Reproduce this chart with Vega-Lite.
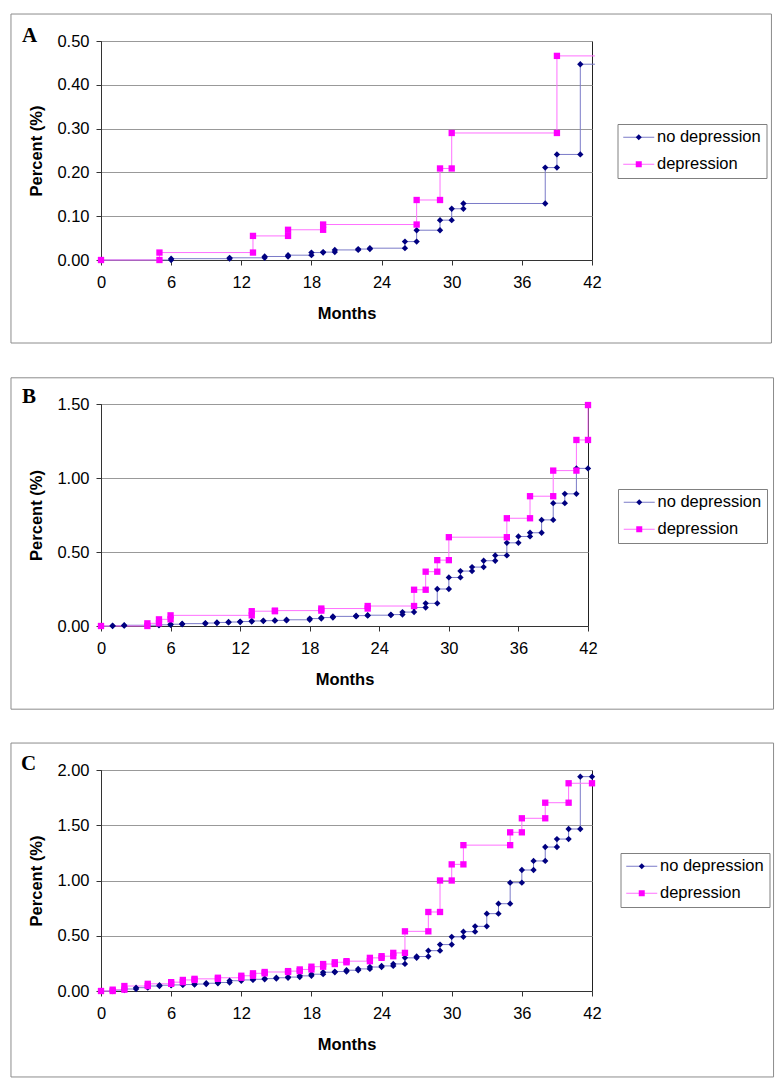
{
"$schema": "https://vega.github.io/schema/vega-lite/v6.json",
"background": "white",
"padding": {"left": 9, "top": 13, "right": 0, "bottom": 0},
"spacing": 31,
"config": {
  "view": {"stroke": "#222", "strokeWidth": 1},
  "font": "Liberation Sans",
  "axis": {"labelFont": "Liberation Sans", "labelFontSize": 16.5, "labelColor": "#000", "titleFont": "Liberation Sans", "titleFontSize": 16.5, "titleFontWeight": "bold", "titleColor": "#000", "domainColor": "#333", "tickColor": "#333", "tickSize": 5, "labelFlush": false, "labelOverlap": false},
  "axisX": {"grid": false, "labelPadding": 9, "titlePadding": 15},
  "axisY": {"grid": true, "gridColor": "#999", "labelPadding": 7, "titlePadding": 12},
  "legend": {"title": null, "orient": "none", "symbolSize": 36, "symbolOffset": 8, "labelOffset": 10, "padding": 5, "rowPadding": 10, "labelFont": "Liberation Sans", "labelFontSize": 16.5, "labelColor": "#000", "labelLimit": 300}
},
"resolve": {"scale": {"color": "independent", "fill": "independent", "shape": "independent"}, "legend": {"color": "independent", "fill": "independent", "shape": "independent"}},
"datasets": {
"curves": [
{"p":"A","g":"no depression","m":0,"v":0},{"p":"A","g":"no depression","m":6,"v":0},{"p":"A","g":"no depression","m":6,"v":0.003},{"p":"A","g":"no depression","m":11,"v":0.003},{"p":"A","g":"no depression","m":11,"v":0.005},{"p":"A","g":"no depression","m":14,"v":0.005},{"p":"A","g":"no depression","m":14,"v":0.008},{"p":"A","g":"no depression","m":16,"v":0.008},{"p":"A","g":"no depression","m":16,"v":0.011},{"p":"A","g":"no depression","m":18,"v":0.011},{"p":"A","g":"no depression","m":18,"v":0.017},{"p":"A","g":"no depression","m":19,"v":0.017},{"p":"A","g":"no depression","m":19,"v":0.018},{"p":"A","g":"no depression","m":20,"v":0.018},{"p":"A","g":"no depression","m":20,"v":0.023},{"p":"A","g":"no depression","m":22,"v":0.023},{"p":"A","g":"no depression","m":22,"v":0.025},{"p":"A","g":"no depression","m":23,"v":0.025},{"p":"A","g":"no depression","m":23,"v":0.027},{"p":"A","g":"no depression","m":26,"v":0.027},{"p":"A","g":"no depression","m":26,"v":0.042},{"p":"A","g":"no depression","m":27,"v":0.042},{"p":"A","g":"no depression","m":27,"v":0.068},{"p":"A","g":"no depression","m":29,"v":0.068},{"p":"A","g":"no depression","m":29,"v":0.091},{"p":"A","g":"no depression","m":30,"v":0.091},{"p":"A","g":"no depression","m":30,"v":0.117},{"p":"A","g":"no depression","m":31,"v":0.117},{"p":"A","g":"no depression","m":31,"v":0.129},{"p":"A","g":"no depression","m":38,"v":0.129},{"p":"A","g":"no depression","m":38,"v":0.211},{"p":"A","g":"no depression","m":39,"v":0.211},{"p":"A","g":"no depression","m":39,"v":0.241},{"p":"A","g":"no depression","m":41,"v":0.241},{"p":"A","g":"no depression","m":41,"v":0.447},{"p":"A","g":"no depression","m":42.25,"v":0.447,"k":"tail"},
{"p":"A","g":"depression","m":0,"v":0},{"p":"A","g":"depression","m":5,"v":0},{"p":"A","g":"depression","m":5,"v":0.017},{"p":"A","g":"depression","m":13,"v":0.017},{"p":"A","g":"depression","m":13,"v":0.055},{"p":"A","g":"depression","m":16,"v":0.055},{"p":"A","g":"depression","m":16,"v":0.069},{"p":"A","g":"depression","m":19,"v":0.069},{"p":"A","g":"depression","m":19,"v":0.081},{"p":"A","g":"depression","m":27,"v":0.081},{"p":"A","g":"depression","m":27,"v":0.137},{"p":"A","g":"depression","m":29,"v":0.137},{"p":"A","g":"depression","m":29,"v":0.209},{"p":"A","g":"depression","m":30,"v":0.209},{"p":"A","g":"depression","m":30,"v":0.29},{"p":"A","g":"depression","m":39,"v":0.29},{"p":"A","g":"depression","m":39,"v":0.466},{"p":"A","g":"depression","m":42.25,"v":0.466,"k":"tail"},
{"p":"B","g":"no depression","m":0,"v":0},{"p":"B","g":"no depression","m":1,"v":0},{"p":"B","g":"no depression","m":1,"v":0.002},{"p":"B","g":"no depression","m":2,"v":0.002},{"p":"B","g":"no depression","m":2,"v":0.005},{"p":"B","g":"no depression","m":5,"v":0.005},{"p":"B","g":"no depression","m":5,"v":0.008},{"p":"B","g":"no depression","m":6,"v":0.008},{"p":"B","g":"no depression","m":6,"v":0.012},{"p":"B","g":"no depression","m":7,"v":0.012},{"p":"B","g":"no depression","m":7,"v":0.016},{"p":"B","g":"no depression","m":9,"v":0.016},{"p":"B","g":"no depression","m":9,"v":0.02},{"p":"B","g":"no depression","m":10,"v":0.02},{"p":"B","g":"no depression","m":10,"v":0.024},{"p":"B","g":"no depression","m":11,"v":0.024},{"p":"B","g":"no depression","m":11,"v":0.027},{"p":"B","g":"no depression","m":12,"v":0.027},{"p":"B","g":"no depression","m":12,"v":0.03},{"p":"B","g":"no depression","m":13,"v":0.03},{"p":"B","g":"no depression","m":13,"v":0.034},{"p":"B","g":"no depression","m":14,"v":0.034},{"p":"B","g":"no depression","m":14,"v":0.036},{"p":"B","g":"no depression","m":15,"v":0.036},{"p":"B","g":"no depression","m":15,"v":0.038},{"p":"B","g":"no depression","m":16,"v":0.038},{"p":"B","g":"no depression","m":16,"v":0.042},{"p":"B","g":"no depression","m":18,"v":0.042},{"p":"B","g":"no depression","m":18,"v":0.05},{"p":"B","g":"no depression","m":19,"v":0.05},{"p":"B","g":"no depression","m":19,"v":0.057},{"p":"B","g":"no depression","m":20,"v":0.057},{"p":"B","g":"no depression","m":20,"v":0.065},{"p":"B","g":"no depression","m":22,"v":0.065},{"p":"B","g":"no depression","m":22,"v":0.07},{"p":"B","g":"no depression","m":23,"v":0.07},{"p":"B","g":"no depression","m":23,"v":0.073},{"p":"B","g":"no depression","m":25,"v":0.073},{"p":"B","g":"no depression","m":25,"v":0.077},{"p":"B","g":"no depression","m":26,"v":0.077},{"p":"B","g":"no depression","m":26,"v":0.094},{"p":"B","g":"no depression","m":27,"v":0.094},{"p":"B","g":"no depression","m":27,"v":0.125},{"p":"B","g":"no depression","m":28,"v":0.125},{"p":"B","g":"no depression","m":28,"v":0.153},{"p":"B","g":"no depression","m":29,"v":0.153},{"p":"B","g":"no depression","m":29,"v":0.25},{"p":"B","g":"no depression","m":30,"v":0.25},{"p":"B","g":"no depression","m":30,"v":0.328},{"p":"B","g":"no depression","m":31,"v":0.328},{"p":"B","g":"no depression","m":31,"v":0.371},{"p":"B","g":"no depression","m":32,"v":0.371},{"p":"B","g":"no depression","m":32,"v":0.398},{"p":"B","g":"no depression","m":33,"v":0.398},{"p":"B","g":"no depression","m":33,"v":0.441},{"p":"B","g":"no depression","m":34,"v":0.441},{"p":"B","g":"no depression","m":34,"v":0.477},{"p":"B","g":"no depression","m":35,"v":0.477},{"p":"B","g":"no depression","m":35,"v":0.562},{"p":"B","g":"no depression","m":36,"v":0.562},{"p":"B","g":"no depression","m":36,"v":0.605},{"p":"B","g":"no depression","m":37,"v":0.605},{"p":"B","g":"no depression","m":37,"v":0.63},{"p":"B","g":"no depression","m":38,"v":0.63},{"p":"B","g":"no depression","m":38,"v":0.717},{"p":"B","g":"no depression","m":39,"v":0.717},{"p":"B","g":"no depression","m":39,"v":0.83},{"p":"B","g":"no depression","m":40,"v":0.83},{"p":"B","g":"no depression","m":40,"v":0.893},{"p":"B","g":"no depression","m":41,"v":0.893},{"p":"B","g":"no depression","m":41,"v":1.065},{"p":"B","g":"no depression","m":42,"v":1.065},
{"p":"B","g":"depression","m":0,"v":0},{"p":"B","g":"depression","m":4,"v":0},{"p":"B","g":"depression","m":4,"v":0.018},{"p":"B","g":"depression","m":5,"v":0.018},{"p":"B","g":"depression","m":5,"v":0.045},{"p":"B","g":"depression","m":6,"v":0.045},{"p":"B","g":"depression","m":6,"v":0.072},{"p":"B","g":"depression","m":13,"v":0.072},{"p":"B","g":"depression","m":13,"v":0.1},{"p":"B","g":"depression","m":15,"v":0.1},{"p":"B","g":"depression","m":15,"v":0.104},{"p":"B","g":"depression","m":19,"v":0.104},{"p":"B","g":"depression","m":19,"v":0.118},{"p":"B","g":"depression","m":23,"v":0.118},{"p":"B","g":"depression","m":23,"v":0.135},{"p":"B","g":"depression","m":27,"v":0.135},{"p":"B","g":"depression","m":27,"v":0.245},{"p":"B","g":"depression","m":28,"v":0.245},{"p":"B","g":"depression","m":28,"v":0.367},{"p":"B","g":"depression","m":29,"v":0.367},{"p":"B","g":"depression","m":29,"v":0.445},{"p":"B","g":"depression","m":30,"v":0.445},{"p":"B","g":"depression","m":30,"v":0.6},{"p":"B","g":"depression","m":35,"v":0.6},{"p":"B","g":"depression","m":35,"v":0.728},{"p":"B","g":"depression","m":37,"v":0.728},{"p":"B","g":"depression","m":37,"v":0.877},{"p":"B","g":"depression","m":39,"v":0.877},{"p":"B","g":"depression","m":39,"v":1.05},{"p":"B","g":"depression","m":41,"v":1.05},{"p":"B","g":"depression","m":41,"v":1.257},{"p":"B","g":"depression","m":42,"v":1.257},{"p":"B","g":"depression","m":42,"v":1.493},
{"p":"C","g":"no depression","m":0,"v":0},{"p":"C","g":"no depression","m":1,"v":0},{"p":"C","g":"no depression","m":1,"v":0.008},{"p":"C","g":"no depression","m":2,"v":0.008},{"p":"C","g":"no depression","m":2,"v":0.018},{"p":"C","g":"no depression","m":3,"v":0.018},{"p":"C","g":"no depression","m":3,"v":0.03},{"p":"C","g":"no depression","m":4,"v":0.03},{"p":"C","g":"no depression","m":4,"v":0.045},{"p":"C","g":"no depression","m":5,"v":0.045},{"p":"C","g":"no depression","m":5,"v":0.052},{"p":"C","g":"no depression","m":6,"v":0.052},{"p":"C","g":"no depression","m":6,"v":0.055},{"p":"C","g":"no depression","m":7,"v":0.055},{"p":"C","g":"no depression","m":7,"v":0.058},{"p":"C","g":"no depression","m":8,"v":0.058},{"p":"C","g":"no depression","m":8,"v":0.063},{"p":"C","g":"no depression","m":9,"v":0.063},{"p":"C","g":"no depression","m":9,"v":0.07},{"p":"C","g":"no depression","m":10,"v":0.07},{"p":"C","g":"no depression","m":10,"v":0.077},{"p":"C","g":"no depression","m":11,"v":0.077},{"p":"C","g":"no depression","m":11,"v":0.093},{"p":"C","g":"no depression","m":12,"v":0.093},{"p":"C","g":"no depression","m":12,"v":0.1},{"p":"C","g":"no depression","m":13,"v":0.1},{"p":"C","g":"no depression","m":13,"v":0.106},{"p":"C","g":"no depression","m":14,"v":0.106},{"p":"C","g":"no depression","m":14,"v":0.112},{"p":"C","g":"no depression","m":15,"v":0.112},{"p":"C","g":"no depression","m":15,"v":0.12},{"p":"C","g":"no depression","m":16,"v":0.12},{"p":"C","g":"no depression","m":16,"v":0.126},{"p":"C","g":"no depression","m":17,"v":0.126},{"p":"C","g":"no depression","m":17,"v":0.137},{"p":"C","g":"no depression","m":18,"v":0.137},{"p":"C","g":"no depression","m":18,"v":0.152},{"p":"C","g":"no depression","m":19,"v":0.152},{"p":"C","g":"no depression","m":19,"v":0.17},{"p":"C","g":"no depression","m":20,"v":0.17},{"p":"C","g":"no depression","m":20,"v":0.176},{"p":"C","g":"no depression","m":21,"v":0.176},{"p":"C","g":"no depression","m":21,"v":0.188},{"p":"C","g":"no depression","m":22,"v":0.188},{"p":"C","g":"no depression","m":22,"v":0.2},{"p":"C","g":"no depression","m":23,"v":0.2},{"p":"C","g":"no depression","m":23,"v":0.217},{"p":"C","g":"no depression","m":24,"v":0.217},{"p":"C","g":"no depression","m":24,"v":0.227},{"p":"C","g":"no depression","m":25,"v":0.227},{"p":"C","g":"no depression","m":25,"v":0.245},{"p":"C","g":"no depression","m":26,"v":0.245},{"p":"C","g":"no depression","m":26,"v":0.3},{"p":"C","g":"no depression","m":27,"v":0.3},{"p":"C","g":"no depression","m":27,"v":0.312},{"p":"C","g":"no depression","m":28,"v":0.312},{"p":"C","g":"no depression","m":28,"v":0.365},{"p":"C","g":"no depression","m":29,"v":0.365},{"p":"C","g":"no depression","m":29,"v":0.42},{"p":"C","g":"no depression","m":30,"v":0.42},{"p":"C","g":"no depression","m":30,"v":0.49},{"p":"C","g":"no depression","m":31,"v":0.49},{"p":"C","g":"no depression","m":31,"v":0.537},{"p":"C","g":"no depression","m":32,"v":0.537},{"p":"C","g":"no depression","m":32,"v":0.585},{"p":"C","g":"no depression","m":33,"v":0.585},{"p":"C","g":"no depression","m":33,"v":0.7},{"p":"C","g":"no depression","m":34,"v":0.7},{"p":"C","g":"no depression","m":34,"v":0.79},{"p":"C","g":"no depression","m":35,"v":0.79},{"p":"C","g":"no depression","m":35,"v":0.98},{"p":"C","g":"no depression","m":36,"v":0.98},{"p":"C","g":"no depression","m":36,"v":1.095},{"p":"C","g":"no depression","m":37,"v":1.095},{"p":"C","g":"no depression","m":37,"v":1.177},{"p":"C","g":"no depression","m":38,"v":1.177},{"p":"C","g":"no depression","m":38,"v":1.303},{"p":"C","g":"no depression","m":39,"v":1.303},{"p":"C","g":"no depression","m":39,"v":1.375},{"p":"C","g":"no depression","m":40,"v":1.375},{"p":"C","g":"no depression","m":40,"v":1.466},{"p":"C","g":"no depression","m":41,"v":1.466},{"p":"C","g":"no depression","m":41,"v":1.94},{"p":"C","g":"no depression","m":42,"v":1.94},
{"p":"C","g":"depression","m":0,"v":0},{"p":"C","g":"depression","m":1,"v":0},{"p":"C","g":"depression","m":1,"v":0.012},{"p":"C","g":"depression","m":2,"v":0.012},{"p":"C","g":"depression","m":2,"v":0.045},{"p":"C","g":"depression","m":4,"v":0.045},{"p":"C","g":"depression","m":4,"v":0.065},{"p":"C","g":"depression","m":6,"v":0.065},{"p":"C","g":"depression","m":6,"v":0.08},{"p":"C","g":"depression","m":7,"v":0.08},{"p":"C","g":"depression","m":7,"v":0.1},{"p":"C","g":"depression","m":8,"v":0.1},{"p":"C","g":"depression","m":8,"v":0.11},{"p":"C","g":"depression","m":10,"v":0.11},{"p":"C","g":"depression","m":10,"v":0.12},{"p":"C","g":"depression","m":12,"v":0.12},{"p":"C","g":"depression","m":12,"v":0.138},{"p":"C","g":"depression","m":13,"v":0.138},{"p":"C","g":"depression","m":13,"v":0.16},{"p":"C","g":"depression","m":14,"v":0.16},{"p":"C","g":"depression","m":14,"v":0.172},{"p":"C","g":"depression","m":16,"v":0.172},{"p":"C","g":"depression","m":16,"v":0.18},{"p":"C","g":"depression","m":17,"v":0.18},{"p":"C","g":"depression","m":17,"v":0.195},{"p":"C","g":"depression","m":18,"v":0.195},{"p":"C","g":"depression","m":18,"v":0.22},{"p":"C","g":"depression","m":19,"v":0.22},{"p":"C","g":"depression","m":19,"v":0.244},{"p":"C","g":"depression","m":20,"v":0.244},{"p":"C","g":"depression","m":20,"v":0.26},{"p":"C","g":"depression","m":21,"v":0.26},{"p":"C","g":"depression","m":21,"v":0.27},{"p":"C","g":"depression","m":23,"v":0.27},{"p":"C","g":"depression","m":23,"v":0.3},{"p":"C","g":"depression","m":24,"v":0.3},{"p":"C","g":"depression","m":24,"v":0.315},{"p":"C","g":"depression","m":25,"v":0.315},{"p":"C","g":"depression","m":25,"v":0.345},{"p":"C","g":"depression","m":26,"v":0.345},{"p":"C","g":"depression","m":26,"v":0.54},{"p":"C","g":"depression","m":28,"v":0.54},{"p":"C","g":"depression","m":28,"v":0.715},{"p":"C","g":"depression","m":29,"v":0.715},{"p":"C","g":"depression","m":29,"v":1.0},{"p":"C","g":"depression","m":30,"v":1.0},{"p":"C","g":"depression","m":30,"v":1.146},{"p":"C","g":"depression","m":31,"v":1.146},{"p":"C","g":"depression","m":31,"v":1.32},{"p":"C","g":"depression","m":35,"v":1.32},{"p":"C","g":"depression","m":35,"v":1.436},{"p":"C","g":"depression","m":36,"v":1.436},{"p":"C","g":"depression","m":36,"v":1.563},{"p":"C","g":"depression","m":38,"v":1.563},{"p":"C","g":"depression","m":38,"v":1.704},{"p":"C","g":"depression","m":40,"v":1.704},{"p":"C","g":"depression","m":40,"v":1.88},{"p":"C","g":"depression","m":42,"v":1.88}
]
},
"vconcat": [
{
  "width": 491, "height": 219,
  "layer": [
    {"data": {"values": [{"panel": "A"}]}, "mark": {"type": "rect", "fill": "transparent", "stroke": "#8c8c8c", "strokeWidth": 1, "clip": false},
     "encoding": {"x": {"datum": -7.7, "type": "quantitative", "scale": {"domain": [0, 42], "nice": false, "zero": false}, "axis": {"values": [0, 6, 12, 18, 24, 30, 36, 42], "title": "Months"}}, "x2": {"datum": 57.35}, "y": {"datum": 0.5616, "type": "quantitative", "scale": {"domain": [0, 0.5], "nice": false}, "axis": {"values": [0, 0.1, 0.2, 0.3, 0.4, 0.5], "format": ".2f", "title": "Percent (%)"}}, "y2": {"datum": -0.1895}}},
    {"data": {"values": [{"panel": "A"}]}, "mark": {"type": "text", "font": "Liberation Serif", "fontSize": 21, "fontWeight": "bold", "align": "center", "baseline": "alphabetic", "clip": false, "color": "#000"},
     "encoding": {"text": {"field": "panel"}, "x": {"datum": -6.1, "type": "quantitative"}, "y": {"datum": 0.498, "type": "quantitative"}}},
    {"data": {"name": "curves"}, "transform": [{"filter": "datum.p === 'A'"}], "mark": {"type": "line", "strokeWidth": 1, "clip": false},
     "encoding": {
       "x": {"field": "m", "type": "quantitative"},
       "y": {"field": "v", "type": "quantitative"},
       "color": {"field": "g", "type": "nominal", "sort": ["no depression", "depression"], "scale": {"range": ["#7b7bc8", "#ff70ff"]},
         "legend": {"legendX": 516.5, "legendY": 83, "symbolType": "M-5.17,0H5.17", "symbolStrokeWidth": 1, "strokeColor": "#808080"}},
       "order": [{"field": "m"}, {"field": "v"}]}},
    {"data": {"name": "curves"}, "transform": [{"filter": "datum.p === 'A' && datum.k !== 'tail'"}], "mark": {"type": "point", "filled": true, "opacity": 1, "size": 40, "strokeWidth": 0, "clip": false},
     "encoding": {
       "x": {"field": "m", "type": "quantitative"},
       "y": {"field": "v", "type": "quantitative"},
       "fill": {"field": "g", "type": "nominal", "scale": {"domain": ["no depression", "depression"], "range": ["#000080", "#ff00ff"]},
         "legend": {"legendX": 516.5, "legendY": 83, "labelExpr": "''"}},
       "shape": {"field": "g", "type": "nominal", "scale": {"domain": ["no depression", "depression"], "range": ["diamond", "square"]},
         "legend": {"legendX": 516.5, "legendY": 83, "labelExpr": "''"}}}}
  ]
},
{
  "width": 487, "height": 222,
  "layer": [
    {"data": {"values": [{"panel": "B"}]}, "mark": {"type": "rect", "fill": "transparent", "stroke": "#8c8c8c", "strokeWidth": 1, "clip": false},
     "encoding": {"x": {"datum": -7.762, "type": "quantitative", "scale": {"domain": [0, 42], "nice": false, "zero": false}, "axis": {"values": [0, 6, 12, 18, 24, 30, 36, 42], "title": "Months"}}, "x2": {"datum": 58.0}, "y": {"datum": 1.677, "type": "quantitative", "scale": {"domain": [0, 1.5], "nice": false}, "axis": {"values": [0, 0.25, 0.5, 0.75, 1, 1.25, 1.5], "format": ".2f", "title": "Percent (%)"}}, "y2": {"datum": -0.562}}},
    {"data": {"values": [{"panel": "B"}]}, "mark": {"type": "text", "font": "Liberation Serif", "fontSize": 21, "fontWeight": "bold", "align": "center", "baseline": "alphabetic", "clip": false, "color": "#000"},
     "encoding": {"text": {"field": "panel"}, "x": {"datum": -6.2, "type": "quantitative"}, "y": {"datum": 1.505, "type": "quantitative"}}},
    {"data": {"name": "curves"}, "transform": [{"filter": "datum.p === 'B'"}], "mark": {"type": "line", "strokeWidth": 1, "clip": false},
     "encoding": {
       "x": {"field": "m", "type": "quantitative"},
       "y": {"field": "v", "type": "quantitative"},
       "color": {"field": "g", "type": "nominal", "sort": ["no depression", "depression"], "scale": {"range": ["#7b7bc8", "#ff70ff"]},
         "legend": {"legendX": 517, "legendY": 85, "symbolType": "M-5.17,0H5.17", "symbolStrokeWidth": 1, "strokeColor": "#808080"}},
       "order": [{"field": "m"}, {"field": "v"}]}},
    {"data": {"name": "curves"}, "transform": [{"filter": "datum.p === 'B' && datum.k !== 'tail'"}], "mark": {"type": "point", "filled": true, "opacity": 1, "size": 40, "strokeWidth": 0, "clip": false},
     "encoding": {
       "x": {"field": "m", "type": "quantitative"},
       "y": {"field": "v", "type": "quantitative"},
       "fill": {"field": "g", "type": "nominal", "scale": {"domain": ["no depression", "depression"], "range": ["#000080", "#ff00ff"]},
         "legend": {"legendX": 517, "legendY": 85, "labelExpr": "''"}},
       "shape": {"field": "g", "type": "nominal", "scale": {"domain": ["no depression", "depression"], "range": ["diamond", "square"]},
         "legend": {"legendX": 517, "legendY": 85, "labelExpr": "''"}}}}
  ]
},
{
  "width": 491, "height": 221,
  "layer": [
    {"data": {"values": [{"panel": "C"}]}, "mark": {"type": "rect", "fill": "transparent", "stroke": "#8c8c8c", "strokeWidth": 1, "clip": false},
     "encoding": {"x": {"datum": -7.7, "type": "quantitative", "scale": {"domain": [0, 42], "nice": false, "zero": false}, "axis": {"values": [0, 6, 12, 18, 24, 30, 36, 42], "title": "Months"}}, "x2": {"datum": 57.53}, "y": {"datum": 2.244, "type": "quantitative", "scale": {"domain": [0, 2], "nice": false}, "axis": {"values": [0, 0.5, 1, 1.5, 2], "format": ".2f", "title": "Percent (%)"}}, "y2": {"datum": -0.778}}},
    {"data": {"values": [{"panel": "C"}]}, "mark": {"type": "text", "font": "Liberation Serif", "fontSize": 21, "fontWeight": "bold", "align": "center", "baseline": "alphabetic", "clip": false, "color": "#000"},
     "encoding": {"text": {"field": "panel"}, "x": {"datum": -6.2, "type": "quantitative"}, "y": {"datum": 2.0, "type": "quantitative"}}},
    {"data": {"name": "curves"}, "transform": [{"filter": "datum.p === 'C'"}], "mark": {"type": "line", "strokeWidth": 1, "clip": false},
     "encoding": {
       "x": {"field": "m", "type": "quantitative"},
       "y": {"field": "v", "type": "quantitative"},
       "color": {"field": "g", "type": "nominal", "sort": ["no depression", "depression"], "scale": {"range": ["#7b7bc8", "#ff70ff"]},
         "legend": {"legendX": 519.5, "legendY": 83, "symbolType": "M-5.17,0H5.17", "symbolStrokeWidth": 1, "strokeColor": "#808080"}},
       "order": [{"field": "m"}, {"field": "v"}]}},
    {"data": {"name": "curves"}, "transform": [{"filter": "datum.p === 'C' && datum.k !== 'tail'"}], "mark": {"type": "point", "filled": true, "opacity": 1, "size": 40, "strokeWidth": 0, "clip": false},
     "encoding": {
       "x": {"field": "m", "type": "quantitative"},
       "y": {"field": "v", "type": "quantitative"},
       "fill": {"field": "g", "type": "nominal", "scale": {"domain": ["no depression", "depression"], "range": ["#000080", "#ff00ff"]},
         "legend": {"legendX": 519.5, "legendY": 83, "labelExpr": "''"}},
       "shape": {"field": "g", "type": "nominal", "scale": {"domain": ["no depression", "depression"], "range": ["diamond", "square"]},
         "legend": {"legendX": 519.5, "legendY": 83, "labelExpr": "''"}}}}
  ]
}
]
}
